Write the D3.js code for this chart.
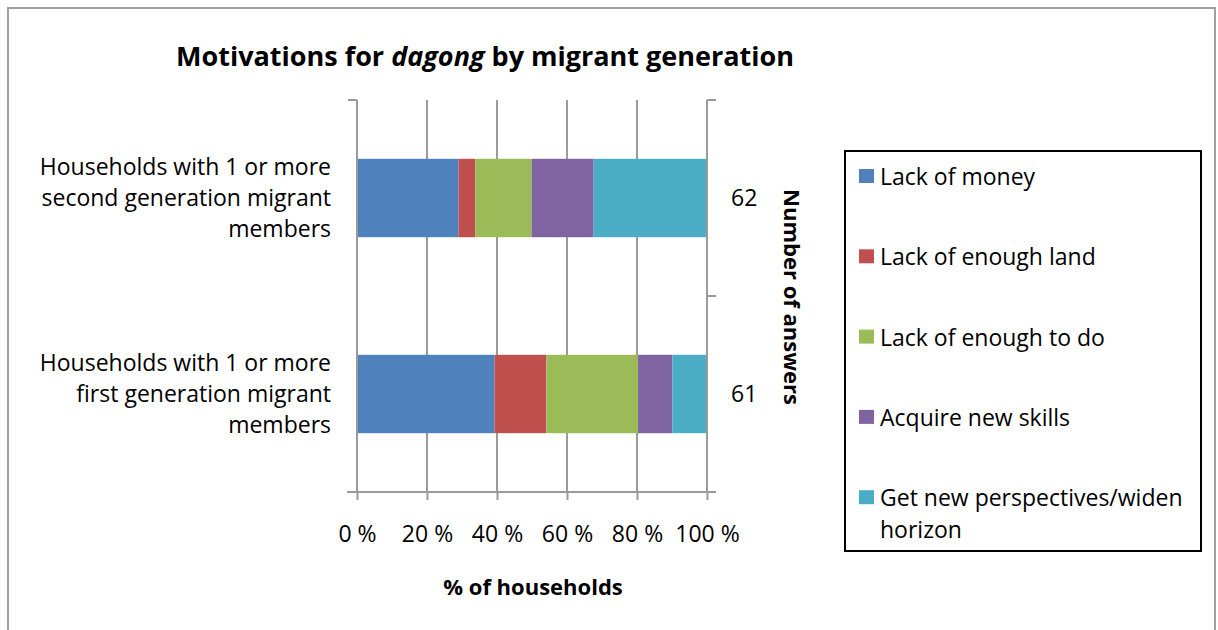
<!DOCTYPE html>
<html>
<head>
<meta charset="utf-8">
<script src="https://cdn.jsdelivr.net/npm/d3@7"></script>
<style>
  html, body { margin: 0; padding: 0; background: #fff; }
  svg text { font-family: "Open Sans", "Liberation Sans", sans-serif; fill: #000; }
</style>
</head>
<body>
<svg id="chart" width="1218" height="630"></svg>
<script>
// Household groups, listed top to bottom
const categories = ["second", "first"];
const categoryLines = [
  ["Households with 1 or more", "second generation migrant", "members"],
  ["Households with 1 or more", "first generation migrant", "members"]
];
// Number of answers per group (secondary axis)
const answers = [62, 61];

// Share of households (%) per motivation, same order as categories
const seriesNames = [
  "Lack of money",
  "Lack of enough land",
  "Lack of enough to do",
  "Acquire new skills",
  "Get new perspectives/widen horizon"
];
const lackOfMoney = [29.0, 39.3];
const lackOfLand = [4.8, 14.8];
const lackOfToDo = [16.1, 26.2];
const newSkills = [17.7, 9.8];
const newHorizon = [32.4, 9.9];
const seriesColors = ["#4F81BD", "#C0504D", "#9BBB59", "#8064A2", "#4BACC6"];

const xTicks = [0, 20, 40, 60, 80, 100];

const seriesValues = [lackOfMoney, lackOfLand, lackOfToDo, newSkills, newHorizon];
const rows = categories.map((c, i) => {
  const r = { cat: c };
  seriesNames.forEach((s, k) => { r[s] = seriesValues[k][i]; });
  return r;
});

const svg = d3.select("#chart");
const gridColor = "#9a9a9a";
const bodyFont = "23px";
const axisTitleFont = "22px";

// Outer frame
svg.append("rect")
  .attr("x", 8).attr("y", 8).attr("width", 1207).attr("height", 640)
  .attr("fill", "none").attr("stroke", "#a0a0a0").attr("stroke-width", 2);

const x = d3.scaleLinear().domain([0, 100]).range([357, 707]);
const y = d3.scaleBand().domain(categories).range([100, 492]).padding(0);
const barFrac = 0.4;

// Title
const title = svg.append("text")
  .attr("x", 485).attr("y", 66)
  .attr("text-anchor", "middle")
  .style("font-size", "27px").style("font-weight", "bold");
title.append("tspan").text("Motivations for ");
title.append("tspan").style("font-style", "italic").text("dagong");
title.append("tspan").text(" by migrant generation");

// Vertical gridlines
svg.append("g").selectAll("line").data(xTicks).join("line")
  .attr("x1", d => x(d)).attr("x2", d => x(d))
  .attr("y1", 100).attr("y2", 492)
  .attr("stroke", gridColor).attr("stroke-width", 2);

// Stacked bars
const stack = d3.stack().keys(seriesNames);
const layers = stack(rows);
svg.append("g").selectAll("g").data(layers).join("g")
  .attr("fill", (d, i) => seriesColors[i])
  .selectAll("rect").data(d => d).join("rect")
  .attr("x", d => x(d[0]))
  .attr("width", d => x(d[1]) - x(d[0]))
  .attr("y", d => y(d.data.cat) + y.bandwidth() * (1 - barFrac) / 2)
  .attr("height", y.bandwidth() * barFrac);

// Bottom axis
const xAxis = svg.append("g").attr("transform", "translate(0,492)")
  .call(d3.axisBottom(x).tickValues(xTicks).tickSize(8).tickPadding(26)
    .tickFormat(d => d + " %"));
xAxis.select(".domain").remove();
xAxis.append("line").attr("x1", 347).attr("x2", 714).attr("y1", 0).attr("y2", 0)
  .attr("stroke", gridColor).attr("stroke-width", 2);
xAxis.selectAll(".tick line").attr("stroke", gridColor).attr("stroke-width", 2);
xAxis.selectAll(".tick text").style("font-size", bodyFont).attr("fill", "#000")
  .style("font-family", "'Open Sans', 'Liberation Sans', sans-serif");

// Left category axis
const yEdges = [100, 296, 492];
const leftAxis = svg.append("g");
leftAxis.append("line").attr("x1", 357).attr("x2", 357).attr("y1", 100).attr("y2", 492)
  .attr("stroke", gridColor).attr("stroke-width", 2);
leftAxis.append("line").attr("x1", 348).attr("x2", 357).attr("y1", 100).attr("y2", 100)
  .attr("stroke", gridColor).attr("stroke-width", 2);

// Category labels
categories.forEach((c, i) => {
  const cy = y(c) + y.bandwidth() / 2;
  const lines = categoryLines[i];
  const lh = 31;
  const t = svg.append("text").attr("text-anchor", "end").style("font-size", bodyFont);
  lines.forEach((ln, k) => {
    t.append("tspan").attr("x", 331)
      .attr("y", cy + (k - (lines.length - 1) / 2) * lh + 8).text(ln);
  });
});

// Right secondary axis with answer counts
const rightAxis = svg.append("g");
rightAxis.append("line").attr("x1", 707).attr("x2", 707).attr("y1", 100).attr("y2", 492)
  .attr("stroke", gridColor).attr("stroke-width", 2);
rightAxis.selectAll("line.tk").data(yEdges).join("line").attr("class", "tk")
  .attr("x1", 707).attr("x2", 716).attr("y1", d => d).attr("y2", d => d)
  .attr("stroke", gridColor).attr("stroke-width", 2);
rightAxis.selectAll("text").data(categories).join("text")
  .attr("x", 731).attr("y", d => y(d) + y.bandwidth() / 2 + 8)
  .style("font-size", bodyFont)
  .text((d, i) => answers[i]);

// Axis titles
svg.append("text")
  .attr("x", 533).attr("y", 595).attr("text-anchor", "middle")
  .style("font-size", axisTitleFont).style("font-weight", "bold")
  .text("% of households");
svg.append("text")
  .attr("transform", "translate(784,297) rotate(90)")
  .attr("text-anchor", "middle")
  .style("font-size", axisTitleFont).style("font-weight", "bold")
  .text("Number of answers");

// Legend
const legend = svg.append("g");
legend.append("rect").attr("x", 845).attr("y", 151).attr("width", 356).attr("height", 400)
  .attr("fill", "#fff").attr("stroke", "#000").attr("stroke-width", 2);
const legendRows = [
  ["Lack of money"],
  ["Lack of enough land"],
  ["Lack of enough to do"],
  ["Acquire new skills"],
  ["Get new perspectives/widen", "horizon"]
];
seriesNames.forEach((s, i) => {
  const top = 169 + i * 80.3;
  legend.append("rect").attr("x", 859).attr("y", top).attr("width", 15).attr("height", 14)
    .attr("fill", seriesColors[i]);
  const t = legend.append("text").style("font-size", bodyFont);
  legendRows[i].forEach((ln, k) => {
    t.append("tspan").attr("x", 880).attr("y", top + 16 + k * 32).text(ln);
  });
});
</script>
</body>
</html>
